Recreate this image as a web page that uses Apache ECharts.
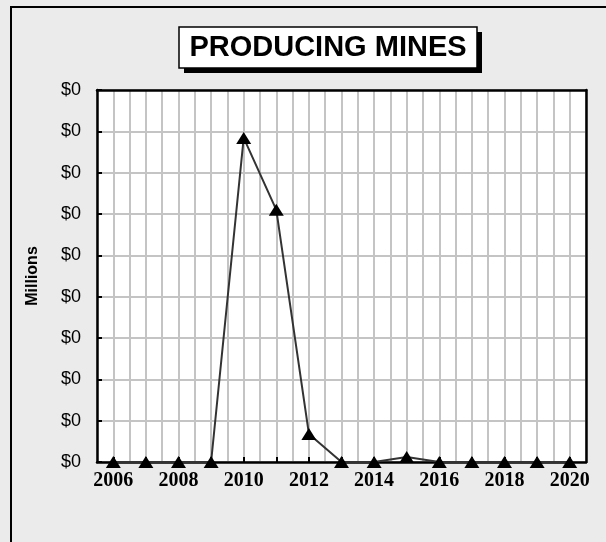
<!DOCTYPE html>
<html>
<head>
<meta charset="utf-8">
<script src="https://cdn.jsdelivr.net/npm/echarts@6/dist/echarts.min.js"></script>
<style>
html,body{margin:0;padding:0;background:#ebebeb;}
#c{width:606px;height:542px;}
</style>
</head>
<body>
<div id="c"></div>
<script>
const years = ['2006','2007','2008','2009','2010','2011','2012','2013','2014','2015','2016','2017','2018','2019','2020'];
const values = [0, 0, 0, 0, 0.392, 0.305, 0.034, 0, 0, 0.006, 0, 0, 0, 0, 0];
const yTickStep = 0.05;
const yMax = 0.45;
const titleText = 'PRODUCING MINES';
const yName = 'Millions';

const chart = echarts.init(document.getElementById('c'), null, {renderer:'canvas'});
chart.setOption({
  backgroundColor: '#ebebeb',
  animation: false,
  grid: {left: 97, top: 90, right: 20, bottom: 80, show: true, backgroundColor: '#ffffff', borderColor: '#000', borderWidth: 0},
  graphic: [
    {type:'rect', shape:{x:11, y:7, width:620, height:560}, style:{fill:'none', stroke:'#000', lineWidth:2}, z:100},
    {type:'rect', shape:{x:184, y:32, width:298, height:41}, style:{fill:'#000'}, z:101},
    {type:'rect', shape:{x:179, y:27, width:298, height:41}, style:{fill:'#fff', stroke:'#000', lineWidth:1.5}, z:102},
    {type:'text', x:328, y:48, style:{text:titleText, fill:'#000', font:'bold 29px "Liberation Sans", Arial, sans-serif', textAlign:'center', textVerticalAlign:'middle'}, z:103}
  ],
  xAxis: [
    {
      type: 'category', data: years, boundaryGap: true,
      axisLine: {show: true, lineStyle: {color: '#000', width: 2.5}},
      axisTick: {show: true, inside: true, alignWithLabel: true, interval: 0, length: 5, lineStyle: {color: '#000', width: 2}},
      axisLabel: {interval: 1, color: '#000', fontFamily: '"Liberation Serif", "Times New Roman", serif', fontWeight: 'bold', fontSize: 20, margin: 9},
      splitLine: {show: false},
      z: 5
    },
    {
      type: 'value', min: 0, max: 30, interval: 1, position: 'bottom',
      axisLine: {show: false}, axisTick: {show: false}, axisLabel: {show: false},
      splitLine: {show: true, lineStyle: {color: '#c4c4c4', width: 2}}
    },
    {
      type: 'value', min: 0, max: 30, interval: 1, position: 'top',
      axisLine: {show: true, onZero: false, lineStyle: {color: '#000', width: 2.5}}, axisTick: {show: false}, axisLabel: {show: false},
      splitLine: {show: false}, z: 5
    }
  ],
  yAxis: [
    {
      type: 'value', min: 0, max: yMax, interval: yTickStep,
      name: yName, nameLocation: 'middle', nameGap: 56, nameRotate: 90,
      nameTextStyle: {color: '#000', fontFamily: '"Liberation Sans", Arial, sans-serif', fontWeight: 'bold', fontSize: 16},
      axisLine: {show: true, lineStyle: {color: '#000', width: 2.5}},
      axisTick: {show: true, inside: true, length: 5, lineStyle: {color: '#000', width: 2}},
      axisLabel: {color: '#000', fontFamily: '"Liberation Sans", Arial, sans-serif', fontSize: 18, margin: 16,
        formatter: v => '$' + v.toFixed(0)},
      splitLine: {show: true, lineStyle: {color: '#c4c4c4', width: 2}},
      z: 5
    },
    {
      type: 'value', min: 0, max: yMax, interval: yTickStep, position: 'right',
      axisLine: {show: true, onZero: false, lineStyle: {color: '#000', width: 2.5}},
      axisTick: {show: false}, axisLabel: {show: false}, splitLine: {show: false}, z: 5
    }
  ],
  series: [{
    type: 'line', data: values, xAxisIndex: 0, yAxisIndex: 0,
    symbol: 'triangle', symbolSize: [15, 12],
    lineStyle: {color: '#333', width: 2},
    itemStyle: {color: '#000'},
    z: 10
  }]
});
</script>
</body>
</html>
